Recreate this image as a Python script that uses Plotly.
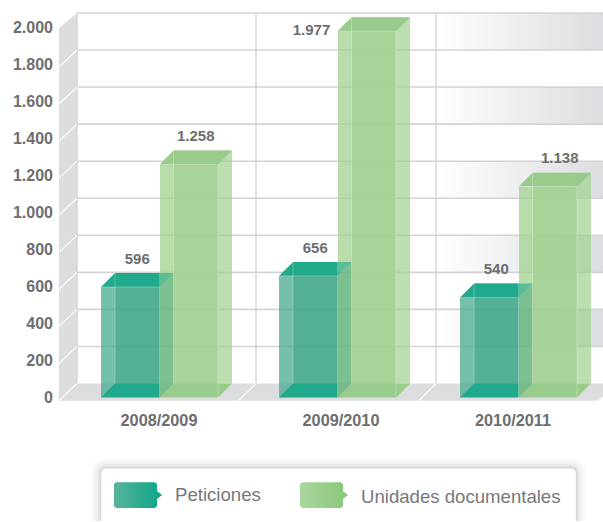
import plotly.graph_objects as go

# ---- data ----
categories = ["2008/2009", "2009/2010", "2010/2011"]
peticiones = [596, 656, 540]
unidades = [1258, 1977, 1138]
y_ticks = [0, 200, 400, 600, 800, 1000, 1200, 1400, 1600, 1800, 2000]

# ---- layout constants ----
W, H = 603, 522
PX_PER_UNIT = 0.186
ZERO_PY = 398
def val(py):
    return (ZERO_PY - py) / PX_PER_UNIT

DX = 14            # depth in x (axis units = pixels)
DY = 14 / PX_PER_UNIT  # depth in y (value units)
BAR_W = 58.5
GROUP_LEFT = [101, 279, 460]
LABEL_X = [159, 341, 513]
TXT = "#6d6e71"
GRID = "#d1d3d4"
WALL = "#dcddde"
FONT = "Liberation Sans"

fig = go.Figure()
AX_BG = dict(xaxis="x", yaxis="y")
AX_TOP = dict(xaxis="x3", yaxis="y3")
AX_LEG = dict(xaxis="x2", yaxis="y2")


def poly(xs, ys, color=None, ax=AX_TOP, grad=None):
    kw = dict(fillgradient=grad) if grad else dict(fillcolor=color)
    fig.add_trace(go.Scatter(x=xs, y=ys, mode="none", fill="toself", hoverinfo="skip",
                             showlegend=False, **kw, **ax))


def lines(segments, color, width, ax=AX_BG):
    xs, ys = [], []
    for (x0, y0, x1, y1) in segments:
        xs += [x0, x1, None]
        ys += [y0, y1, None]
    fig.add_trace(go.Scatter(x=xs, y=ys, mode="lines", line=dict(color=color, width=width),
                             hoverinfo="skip", showlegend=False, **ax))


# ---- chart box: wall, floor, bands, grid ----
X_WALL_F, X_WALL_B = 59, 77
poly([X_WALL_F, X_WALL_F, X_WALL_B, X_WALL_B], [-16, val(27), y_ticks[-1] + DY, DY], WALL, AX_BG)
poly([X_WALL_F, X_WALL_B, W, W, 598], [-16, DY, DY, val(397), -16], WALL, AX_BG)
band_grad = dict(type="horizontal", colorscale=[[0, "#ffffff"], [1, "#dcdde0"]])
for lo, hi in [(1800, 2000), (1400, 1600), (1000, 1200), (600, 800), (200, 400)]:
    poly([436, W, W, 436], [lo + DY, lo + DY, hi + DY, hi + DY], ax=AX_BG, grad=band_grad)
lines([(x, DY, x, y_ticks[-1] + DY) for x in (X_WALL_B, 256, 436)], GRID, 1.3)
lines([(X_WALL_B, v + DY, W, v + DY) for v in y_ticks[1:]], GRID, 1.6)
lines([(X_WALL_F, -16, 598, -16)], "#e6e7e8", 1.2)
lines([(X_WALL_F, v - 16, X_WALL_B, v + DY) for v in y_ticks[:-1]], "#ffffff", 1.1)
lines([(x - 17, -16, x, DY) for x in (256, 436)], "#ffffff", 1.1)

# ---- back faces ----
for gl, p, u in zip(GROUP_LEFT, peticiones, unidades):
    g = gl + BAR_W
    poly([g + DX, g + BAR_W + DX, g + BAR_W + DX, g + DX], [DY, DY, u + DY, u + DY],
         "rgba(159,208,142,0.7)", AX_BG)
    poly([gl + DX, g, g, gl + DX], [DY, DY, p + DY, p + DY], "rgba(59,164,135,0.7)", AX_BG)

# ---- front faces as real bars ----
fig.add_trace(go.Bar(x=[gl + BAR_W * 1.5 for gl in GROUP_LEFT], y=unidades, width=BAR_W,
                     marker=dict(color="rgba(163,209,144,0.76)", line=dict(width=0)),
                     name="Unidades documentales", showlegend=False, **AX_TOP))
fig.add_trace(go.Bar(x=[gl + BAR_W * 0.5 for gl in GROUP_LEFT], y=peticiones, width=BAR_W,
                     marker=dict(color="rgba(72,170,143,0.75)", line=dict(width=0)),
                     name="Peticiones", showlegend=False, **AX_TOP))

# ---- top, floor and side faces ----
TEAL, GREEN = "#20a98a", "#98cb8c"
for gl, p, u in zip(GROUP_LEFT, peticiones, unidades):
    g = gl + BAR_W
    e = g + BAR_W
    poly([g, g + DX, e + DX, e], [u, u + DY, u + DY, u], GREEN)
    poly([g, g + DX, e + DX, e], [0, DY, DY, 0], GREEN)
    poly([gl, gl + DX, g, g], [p, p + DY, p + DY, p], TEAL)
    poly([gl, gl + DX, g, g], [0, DY, DY, 0], TEAL)
    poly([g, g, g + DX], [p, p + DY, p + DY], "rgba(32,169,138,0.62)")
    poly([g, g + DX, g + DX, g], [0, DY, p + DY, p], "rgba(47,158,113,0.45)")
    edges = []
    for left, top, width in ((gl, p, BAR_W), (g, u, BAR_W)):
        edges += [(left + DX, DY, left + DX, top + DY),
                  (left + width, 0, left + width, top),
                  (left, top, left + width, top)]
    lines(edges, "rgba(255,255,255,0.28)", 1, AX_TOP)

# ---- value labels ----
def fmt(v):
    return f"{v:,}".replace(",", ".")

LIFT = 27 / PX_PER_UNIT
lx, ly, lt = [], [], []
for gl, p, u in zip(GROUP_LEFT, peticiones, unidades):
    lx += [gl + BAR_W / 2 + 7]
    ly += [p + LIFT]
    lt += [fmt(p)]
    g = gl + BAR_W
    if u > 1900:                    # tallest bar: label sits beside the column
        lx += [g - 26]
        ly += [u]
    else:
        lx += [g + BAR_W / 2 + 7 + (5 if gl == GROUP_LEFT[-1] else 0)]
        ly += [u + LIFT]
    lt += [fmt(u)]
fig.add_trace(go.Scatter(x=lx, y=ly, text=lt, mode="text", textposition="middle center",
                         textfont=dict(family=FONT, size=15, color=TXT, weight="bold"),
                         hoverinfo="skip", showlegend=False, **AX_TOP))

# ---- legend (drawn to match the original's panel) ----
def rrect(x0, y0, x1, y1, r):
    return (f"M{x0+r},{y0} L{x1-r},{y0} Q{x1},{y0} {x1},{y0+r} L{x1},{y1-r} Q{x1},{y1} {x1-r},{y1} "
            f"L{x0+r},{y1} Q{x0},{y1} {x0},{y1-r} L{x0},{y0+r} Q{x0},{y0} {x0+r},{y0} Z")

shapes = []
for grow, a in [(10, 0.012), (8, 0.016), (6, 0.02), (4, 0.028), (2, 0.04)]:
    shapes.append(dict(type="path", xref="x2", yref="y2", layer="below", line_width=0,
                       fillcolor=f"rgba(0,0,0,{a})",
                       path=rrect(100.5 - grow, 468.5 - grow, 576.5 + grow, 540, 6 + grow)))
shapes.append(dict(type="path", xref="x2", yref="y2", layer="below", fillcolor="#ffffff",
                   line=dict(color="#d6d7d8", width=1.4), path=rrect(100.5, 468.5, 576.5, 540, 6)))

def swatch(x0, colors):
    x1 = x0 + 43
    xs = [x0 + 2, x1 - 2, x1, x1, x1 + 5, x1, x1, x1 - 2, x0 + 2, x0, x0, x0 + 2]
    ys = [483, 483, 485, 492, 496, 500, 507, 509, 509, 507, 485, 483]
    poly(xs, ys, ax=AX_LEG, grad=dict(type="horizontal", colorscale=[[0, colors[0]], [1, colors[1]]]))

swatch(114, ("#5ab39c", "#0aa587"))
swatch(300, ("#abd69f", "#86c877"))
annotations = [
    dict(text="Peticiones", x=172.5, y=495, xref="x2", yref="y2", xanchor="left", yanchor="middle",
         showarrow=False, font=dict(family=FONT, size=18.6, color="#77787b")),
    dict(text="Unidades documentales", x=358.5, y=497, xref="x2", yref="y2", xanchor="left",
         yanchor="middle", showarrow=False, font=dict(family=FONT, size=18.6, color="#77787b")),
]

# ---- axes ----
y_domain = [(H - 405) / H, 1]
y_range = [val(405), val(0)]
TOP_PAD = 1
fig.update_layout(
    width=W, height=H + TOP_PAD, margin=dict(l=0, r=0, t=TOP_PAD, b=0),
    paper_bgcolor="#ffffff", plot_bgcolor="rgba(0,0,0,0)",
    separators=",.", barmode="overlay", bargap=0,
    font=dict(family=FONT, color=TXT),
    shapes=shapes, annotations=annotations,
    xaxis=dict(range=[0, W], domain=[0, 1], anchor="y", tickmode="array", tickvals=LABEL_X,
               ticktext=categories, showgrid=False, zeroline=False, showline=False, ticklen=0,
               tickfont=dict(family=FONT, size=16.3, color=TXT, weight="bold"), ticklabelstandoff=4),
    yaxis=dict(range=y_range, domain=y_domain, anchor="free", position=X_WALL_F / W,
               tickmode="array", tickvals=y_ticks, tickformat=",d", showgrid=False, zeroline=False,
               showline=False, ticklen=0, ticklabelstandoff=6,
               tickfont=dict(family=FONT, size=16, color=TXT, weight="bold")),
    xaxis3=dict(range=[0, W], domain=[0, 1], overlaying="x", visible=False, anchor="y3"),
    yaxis3=dict(range=y_range, domain=y_domain, overlaying="y", visible=False, anchor="x3"),
    xaxis2=dict(range=[0, W], domain=[0, 1], visible=False, anchor="y2"),
    yaxis2=dict(range=[H, 450], domain=[0, (H - 450) / H], visible=False, anchor="x2"),
)

fig.write_html("out.html", config=dict(displayModeBar=False),
               post_script="document.body.style.margin='0';document.documentElement.style.overflow='hidden';window.scrollTo(0,0);")
